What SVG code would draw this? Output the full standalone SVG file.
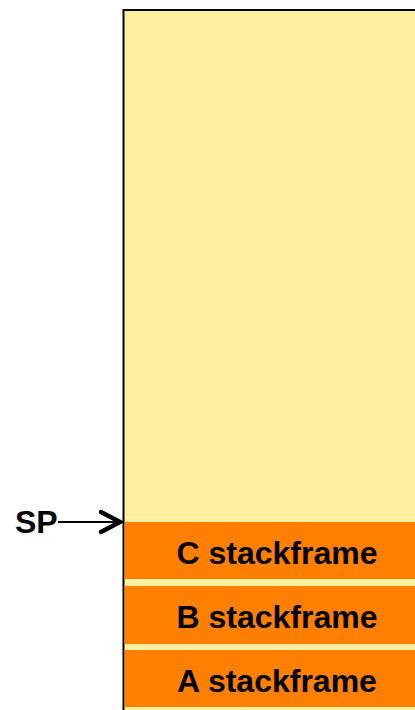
<svg xmlns="http://www.w3.org/2000/svg" width="415" height="710" viewBox="0 0 415 710">
<style>
.frame{fill:#FF7F00}
.lbl{font-family:"Liberation Sans",Arial,sans-serif;font-weight:bold;font-size:32px;fill:#000}
</style>
<rect x="0" y="0" width="415" height="710" fill="#fff"/>
<g id="stack">
<rect x="124" y="10" width="300" height="710" fill="#FFF0A0"/>
<path d="M123.5 720 V10 H420" fill="none" stroke="#000" stroke-width="2"/>
</g>
<g id="frameC"><rect class="frame" x="124.5" y="522" width="300" height="57"/><text class="lbl" x="277" y="563.5" text-anchor="middle">C stackframe</text></g>
<g id="frameB"><rect class="frame" x="124.5" y="586" width="300" height="58"/><text class="lbl" x="277" y="627.5" text-anchor="middle">B stackframe</text></g>
<g id="frameA"><rect class="frame" x="124.5" y="650" width="300" height="57"/><text class="lbl" x="277" y="691.5" text-anchor="middle">A stackframe</text></g>
<g id="sp"><text class="lbl" x="15" y="533">SP</text></g>
<g id="connectors">
<line x1="58" y1="522" x2="120" y2="522" stroke="#000" stroke-width="2"/>
<polyline points="101,512 120,522 101,532" fill="none" stroke="#000" stroke-width="4.5" stroke-linecap="round" stroke-linejoin="miter"/>
</g>
</svg>
